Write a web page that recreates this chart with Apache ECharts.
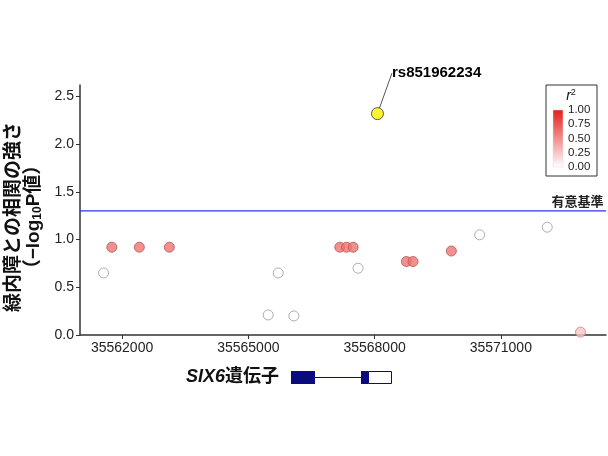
<!DOCTYPE html>
<html>
<head>
<meta charset="utf-8">
<script src="https://cdn.jsdelivr.net/npm/echarts@6/dist/echarts.min.js"></script>
<style>html,body{margin:0;padding:0;background:#fff}#c{width:608px;height:456px}</style>
</head>
<body>
<div id="c"></div>
<script>
// ---- data ----
const positions = [35561561, 35561756, 35562410, 35563123, 35565472, 35565710, 35566082, 35567174, 35567333, 35567490, 35567608, 35568757, 35568914, 35569825, 35570497, 35572104, 35572894];
const logP      = [0.65, 0.92, 0.92, 0.92, 0.21, 0.65, 0.20, 0.92, 0.92, 0.92, 0.70, 0.77, 0.77, 0.88, 1.05, 1.13, 0.03];
const r2        = [0.00, 0.62, 0.62, 0.62, 0.00, 0.00, 0.00, 0.62, 0.62, 0.62, 0.00, 0.62, 0.62, 0.62, 0.00, 0.00, 0.25];
const leadPos = 35568069;
const leadLogP = 2.32;
const leadName = 'rs851962234';
const threshold = 1.3;
const thresholdLabel = '有意基準';
const xRange = [35561000, 35573500];
const xTicks = [35562000, 35565000, 35568000, 35571000];
const yTicks = [0, 0.5, 1.0, 1.5, 2.0, 2.5];
const legendTicks = ['1.00', '0.75', '0.50', '0.25', '0.00'];
const geneName = 'SIX6';
const geneSuffix = '遺伝子';

const FONT = '"Liberation Sans", "Noto Sans CJK JP", sans-serif';
const TOP = [228, 30, 28];
const BLUE = '#2a36e6';
function mix(a, b, t) { return a.map((v, i) => Math.round(v + (b[i] - v) * t)); }
function rgb(c) { return 'rgb(' + c.join(',') + ')'; }
function fillFor(r) { return rgb(mix([255, 255, 255], TOP, r)); }
function borderFor(r) { return r < 0.05 ? '#9a9a9a' : rgb(mix(mix([255,255,255], TOP, r), [90, 20, 20], 0.35)); }

const pts = positions.map((p, i) => ({
  value: [p, logP[i], r2[i]],
  itemStyle: { color: fillFor(r2[i]), borderColor: borderFor(r2[i]), borderWidth: 1 }
}));

const chart = echarts.init(document.getElementById('c'), null, { renderer: 'canvas' });
chart.setOption({
  animation: false,
  textStyle: { fontFamily: FONT },
  grid: { left: 80, right: 2, top: 85, bottom: 121, containLabel: false, outerBoundsMode: 'none' },
  xAxis: {
    type: 'value', min: xRange[0], max: xRange[1],
    splitLine: { show: false },
    axisLine: { lineStyle: { color: '#333', width: 1.5 } },
    axisTick: { customValues: xTicks, length: 4, lineStyle: { color: '#333' } },
    axisLabel: { customValues: xTicks, fontSize: 14, color: '#222', margin: 6, fontFamily: FONT,
      formatter: v => String(v) }
  },
  yAxis: {
    type: 'value', min: 0, max: 2.62,
    splitLine: { show: false },
    axisLine: { show: true, lineStyle: { color: '#333', width: 1.5 } },
    axisTick: { show: true, customValues: yTicks, length: 4, lineStyle: { color: '#333' } },
    axisLabel: { customValues: yTicks, fontSize: 14, color: '#222', margin: 6, fontFamily: FONT,
      formatter: v => v.toFixed(1) },
    name: '{t|緑内障との相関の強さ}\n{t|（−log}{s|10}{t|P値）}',
    nameLocation: 'middle', nameRotate: 90, nameGap: 34,
    nameTextStyle: {
      fontFamily: FONT, padding: [0, 14, 0, 0],
      rich: {
        t: { fontSize: 19, fontWeight: 'bold', color: '#111', lineHeight: 20, fontFamily: FONT },
        s: { fontSize: 12, fontWeight: 'bold', color: '#111', verticalAlign: 'bottom', padding: [6, 0, 0, 0], lineHeight: 20, fontFamily: FONT }
      }
    }
  },
  series: [
    {
      type: 'line', z: 2, symbol: 'none', silent: true,
      data: [[xRange[0], threshold], [xRange[1], threshold]],
      lineStyle: { color: BLUE, width: 1.3 },
      itemStyle: { color: BLUE },
      markPoint: {
        symbol: 'rect', symbolSize: 1, itemStyle: { color: 'rgba(0,0,0,0)' },
        label: { show: true, position: 'left', distance: 2, formatter: thresholdLabel, fontSize: 13, fontWeight: 'bold', color: '#222', fontFamily: FONT, offset: [0, -9] },
        data: [{ coord: [xRange[1], threshold] }]
      }
    },
    {
      type: 'scatter', symbolSize: 10, data: pts, z: 3
    },
    {
      type: 'scatter', symbolSize: 12, z: 4,
      data: [{ value: [leadPos, leadLogP], name: leadName }],
      itemStyle: { color: '#fff200', borderColor: '#333', borderWidth: 1 },
      label: { show: true, formatter: leadName, position: [21, -34], align: 'left', verticalAlign: 'middle', fontSize: 15, fontWeight: 'bold', color: '#000', opacity: 1, textBorderWidth: 0, fontFamily: FONT },
      labelLine: { show: true, lineStyle: { color: '#555', width: 1 } }
    }
  ],
  graphic: [
    { type: 'rect', shape: { x: 546, y: 85, width: 51, height: 91 }, style: { fill: '#fff', stroke: '#333', lineWidth: 1 }, z: 10 },
    { type: 'text', x: 571, y: 96, style: { text: '{i|r}{s|2}', align: 'center', verticalAlign: 'middle',
        rich: { i: { fontStyle: 'italic', fontSize: 14, fill: '#111', fontFamily: FONT }, s: { fontSize: 9, fill: '#111', verticalAlign: 'top', padding: [0,0,6,0], fontFamily: FONT } } }, z: 11 },
    { type: 'rect', shape: { x: 553, y: 110, width: 10, height: 57 },
      style: { fill: new echarts.graphic.LinearGradient(0, 0, 0, 1, [{ offset: 0, color: rgb(TOP) }, { offset: 1, color: '#ffffff' }]), stroke: '#ddd', lineWidth: 0.5 }, z: 11 },
    ...legendTicks.map((t, i) => ({ type: 'text', x: 568, y: 110 + i * 14.25, style: { text: t, fontSize: 11.5, fill: '#222', verticalAlign: 'middle', fontFamily: FONT }, z: 11 })),
    { type: 'text', x: 186, y: 377, style: { text: '{i|' + geneName + '}{b|' + geneSuffix + '}', verticalAlign: 'middle',
        rich: { i: { fontStyle: 'italic', fontWeight: 'bold', fontSize: 18, fill: '#111', fontFamily: FONT }, b: { fontWeight: 'bold', fontSize: 18, fill: '#111', fontFamily: FONT } } } },
    { type: 'rect', shape: { x: 291, y: 371, width: 24, height: 13 }, style: { fill: '#0b0b80' } },
    { type: 'line', shape: { x1: 315, y1: 377.5, x2: 361, y2: 377.5 }, style: { stroke: '#0b0b80', lineWidth: 1.2 } },
    { type: 'rect', shape: { x: 361, y: 371, width: 7.5, height: 13 }, style: { fill: '#0b0b80' } },
    { type: 'rect', shape: { x: 368.5, y: 371.5, width: 23, height: 12 }, style: { fill: '#fff', stroke: '#0b0b80', lineWidth: 1 } }
  ]
});
</script>
</body>
</html>
